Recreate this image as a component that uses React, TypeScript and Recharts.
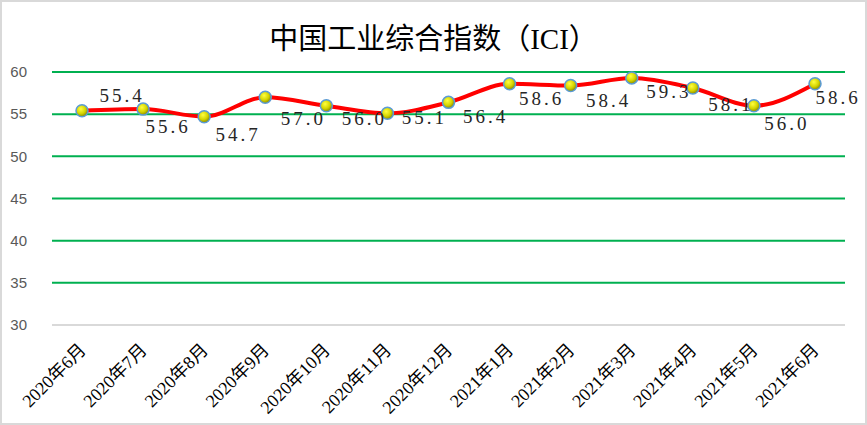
import { LineChart, Line, XAxis, YAxis, CartesianGrid, LabelList } from 'recharts'

const months = [
  '2020年6月', '2020年7月', '2020年8月', '2020年9月', '2020年10月', '2020年11月', '2020年12月',
  '2021年1月', '2021年2月', '2021年3月', '2021年4月', '2021年5月', '2021年6月',
]
const ici = [55.4, 55.6, 54.7, 57.0, 56.0, 55.1, 56.4, 58.6, 58.4, 59.3, 58.1, 56.0, 58.6]
const yTicks = [30, 35, 40, 45, 50, 55, 60]

// label nudges (dx, dy from the point), mirroring where the original placed them
const labelNudge: Array<[number, number]> = [
  [40, -15], [25, 17], [34, 18], [38, 21], [38, 13], [37, 4], [37, 14],
  [32, 15], [38, 15], [37, 14], [38, 16], [33, 18], [23, 14],
]

const serif = '"Liberation Serif", "Noto Sans CJK SC", serif'

const data = months.map((m, i) => ({ month: m, value: ici[i] }))

function MonthTick({ x, y, payload }: { x?: number; y?: number; payload?: { value: string } }) {
  return (
    <g transform={`translate(${(x ?? 0) + 5},${(y ?? 0) + 18})`}>
      <text transform="rotate(-45)" textAnchor="end" fontFamily={serif} fontSize={18} fill="#000">
        {payload?.value}
      </text>
    </g>
  )
}

function ValueLabel(props: any) {
  const { x, y, value, index } = props
  const [dx, dy] = labelNudge[index] ?? [35, 15]
  return (
    <text
      x={x + dx}
      y={y + dy}
      textAnchor="middle"
      dominantBaseline="central"
      fontFamily={serif}
      fontSize={19}
      letterSpacing={3}
      fill="#262626"
    >
      {Number(value).toFixed(1)}
    </text>
  )
}

function Dot(props: any) {
  const { cx, cy, index } = props
  return <circle key={index} cx={cx} cy={cy} r={6} fill="url(#dotFill)" stroke="#5b9bd5" strokeWidth={1.5} />
}

export default function App() {
  return (
    <div
      style={{
        position: 'absolute',
        left: 0,
        top: 0,
        width: 867,
        height: 425,
        boxSizing: 'border-box',
        border: '2px solid #d9d9d9',
        background: '#fff',
      }}
    >
      <div
        style={{
          position: 'absolute',
          top: 13,
          left: 0,
          width: 863,
          textAlign: 'center',
          fontFamily: serif,
          fontSize: 29,
          color: '#000',
        }}
      >
        中国工业综合指数（ICI）
      </div>
      <div style={{ position: 'absolute', left: -2, top: -2 }}>
        <LineChart width={867} height={425} data={data} margin={{ top: 72, right: 22, bottom: 0, left: 0 }}>
          <defs>
            <radialGradient id="dotFill" cx="40%" cy="35%" r="65%">
              <stop offset="0%" stopColor="#ffff40" />
              <stop offset="60%" stopColor="#d4d400" />
              <stop offset="100%" stopColor="#8a8a00" />
            </radialGradient>
          </defs>
          <CartesianGrid vertical={false} stroke="#00b050" strokeWidth={2} horizontalValues={yTicks.slice(1)} />
          <XAxis
            dataKey="month"
            height={100}
            tick={<MonthTick />}
            tickLine={false}
            axisLine={{ stroke: '#d9d9d9', strokeWidth: 2 }}
            interval={0}
            padding={{ left: 30, right: 30 }}
          />
          <YAxis
            domain={[30, 60]}
            ticks={yTicks}
            width={52}
            axisLine={false}
            tickLine={false}
            tickSize={0}
            tickMargin={25}
            tick={{ fontSize: 15, fill: '#595959', fontFamily: '"Liberation Sans", sans-serif' }}
          />
          <Line
            type="monotone"
            dataKey="value"
            stroke="#ff0000"
            strokeWidth={4}
            dot={<Dot />}
            activeDot={false}
            isAnimationActive={false}
          >
            <LabelList dataKey="value" content={<ValueLabel />} />
          </Line>
        </LineChart>
      </div>
    </div>
  )
}
